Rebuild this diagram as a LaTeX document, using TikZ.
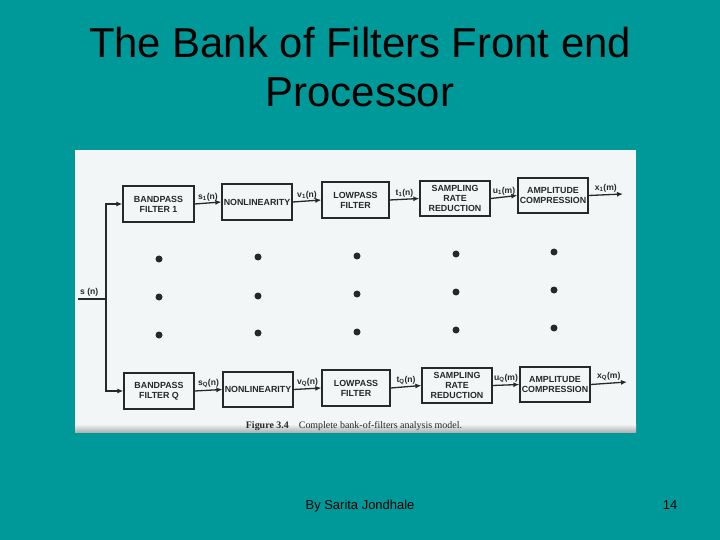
\documentclass[tikz,border=0pt]{standalone}
\usepackage{fontspec}
\setmainfont{Liberation Sans}
\newfontfamily\figfont{Liberation Sans}
\newfontfamily\capfont{Liberation Serif}
\usetikzlibrary{arrows.meta}
\definecolor{slidebg}{RGB}{0,153,153}
\definecolor{paper}{RGB}{242,246,246}
\definecolor{ink}{RGB}{40,40,40}
\begin{document}
\begin{tikzpicture}[x=1bp,y=-1bp,
  blk/.style={draw=ink, line width=1.3bp, fill=paper, inner sep=0pt,
    minimum width=70bp, minimum height=36bp, align=center,
    font=\figfont\bfseries\fontsize{8.9}{10}\selectfont, text=ink},
  conn/.style={draw=ink, line width=1.3bp, -{Latex[length=6bp,width=5bp]}},
  wire/.style={draw=ink, line width=1.3bp},
  sig/.style={font=\figfont\bfseries\fontsize{8.6}{9}\selectfont, text=ink, inner sep=1.5bp, anchor=south},
  dot/.style={circle, fill=ink, inner sep=0pt, minimum size=7bp},
  titletext/.style={font=\fontsize{42}{49}\selectfont, text=black, anchor=base},
  foottext/.style={font=\fontsize{13}{15}\selectfont, text=black, anchor=base}]
\useasboundingbox (0,0) rectangle (720,540);
\fill[slidebg] (0,0) rectangle (720,540);
% scanned figure area
\fill[paper] (75,150) rectangle (636,432);
\shade[top color=paper, bottom color=gray!60] (75,424) rectangle (636,432);

% title
\node[titletext] (title1) at (360,58) {The Bank of Filters Front end};
\node[titletext] (title2) at (360,107) {Processor};

% top row
\node[blk, minimum width=71bp] (bp1) at (158.5,204) {BANDPASS\\FILTER 1};
\node[blk] (nl1) at (257,202) {NONLINEARITY};
\node[blk, minimum width=67bp] (lp1) at (355.5,200) {LOWPASS\\FILTER};
\node[blk, minimum height=35bp] (sr1) at (455,198.5) {SAMPLING\\RATE\\REDUCTION};
\node[blk, minimum height=35bp] (ac1) at (553,195.5) {AMPLITUDE\\COMPRESSION};
\coordinate (o1) at (623,194);

% bottom row
\node[blk] (bpQ) at (159,391) {BANDPASS\\FILTER Q};
\node[blk, minimum height=35bp] (nlQ) at (258,389.5) {NONLINEARITY};
\node[blk, minimum width=68bp] (lpQ) at (356,388) {LOWPASS\\FILTER};
\node[blk, minimum height=35bp] (srQ) at (457,385.5) {SAMPLING\\RATE\\REDUCTION};
\node[blk, minimum height=35bp] (acQ) at (555,384.5) {AMPLITUDE\\COMPRESSION};
\coordinate (oQ) at (627,382);

% input
\coordinate (in) at (78,299);
\coordinate (split) at (106,299);
\node[sig, anchor=south west, inner sep=0pt] (inlab) at (80,296) {s (n)};
\draw[wire] (in) -- (split);
\draw[conn] (split) |- (bp1.west);
\draw[conn] (split) |- (bpQ.west);

% top connectors
\draw[conn] (bp1.east) -- node[sig] (ls1) {s\textsubscript{1}(n)} (nl1.west);
\draw[conn] (nl1.east) -- node[sig] (lv1) {v\textsubscript{1}(n)} (lp1.west);
\draw[conn] (lp1.east) -- node[sig] (lt1) {t\textsubscript{1}(n)} (sr1.west);
\draw[conn] (sr1.east) -- node[sig] (lu1) {u\textsubscript{1}(m)} (ac1.west);
\draw[conn] (ac1.east) -- node[sig] (lx1) {x\textsubscript{1}(m)} (o1);

% bottom connectors
\draw[conn] (bpQ.east) -- node[sig] (lsQ) {s\textsubscript{Q}(n)} (nlQ.west);
\draw[conn] (nlQ.east) -- node[sig] (lvQ) {v\textsubscript{Q}(n)} (lpQ.west);
\draw[conn] (lpQ.east) -- node[sig] (ltQ) {t\textsubscript{Q}(n)} (srQ.west);
\draw[conn] (srQ.east) -- node[sig] (luQ) {u\textsubscript{Q}(m)} (acQ.west);
\draw[conn] (acQ.east) -- node[sig] (lxQ) {x\textsubscript{Q}(m)} (oQ);

% dots
\node[dot] (d11) at (159,259) {};
\node[dot] (d12) at (159,297) {};
\node[dot] (d13) at (159,335) {};
\node[dot] (d21) at (258,257) {};
\node[dot] (d22) at (258,296) {};
\node[dot] (d23) at (258,333) {};
\node[dot] (d31) at (357,256) {};
\node[dot] (d32) at (357,294) {};
\node[dot] (d33) at (357,332) {};
\node[dot] (d41) at (456,254) {};
\node[dot] (d42) at (456,292) {};
\node[dot] (d43) at (456,330) {};
\node[dot] (d51) at (554,252) {};
\node[dot] (d52) at (554,290) {};
\node[dot] (d53) at (554,328) {};

% caption
\node[anchor=base, font=\capfont\fontsize{10}{12}\selectfont, text=ink] (cap) at (354,428)
  {\textbf{Figure 3.4}\quad Complete bank-of-filters analysis model.};

% footer
\node[foottext] (author) at (360,509) {By Sarita Jondhale};
\node[foottext] (page) at (670,509) {14};
\end{tikzpicture}
\end{document}
